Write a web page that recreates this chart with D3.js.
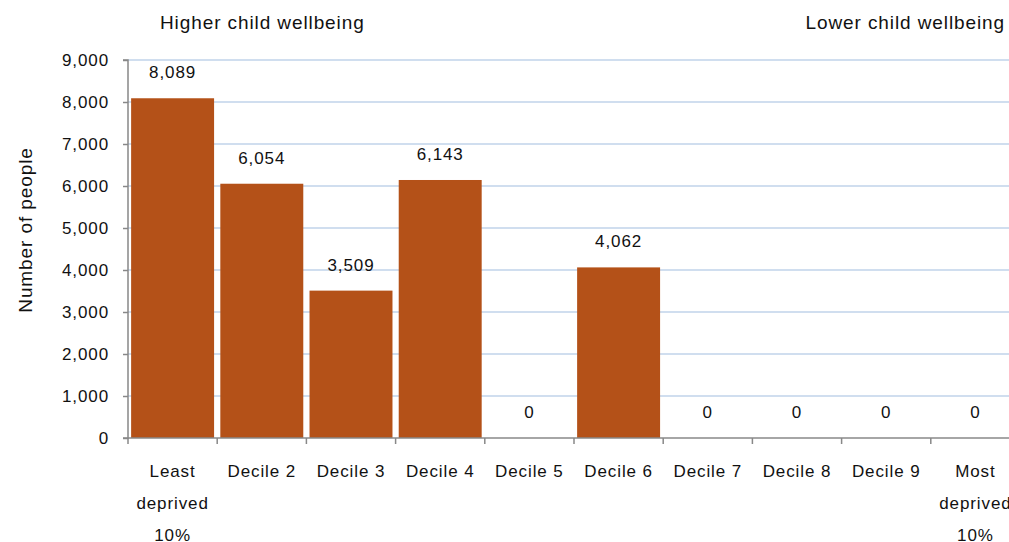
<!DOCTYPE html>
<html><head><meta charset="utf-8">
<script src="https://cdn.jsdelivr.net/npm/d3@7"></script>
<style>body{margin:0;background:#fff;} text{font-family:"Liberation Sans",Arial,sans-serif;}</style>
</head><body>
<svg id="c" width="1009" height="542"></svg>
<script>
const categories = [["Least","deprived","10%"],["Decile 2"],["Decile 3"],["Decile 4"],["Decile 5"],["Decile 6"],["Decile 7"],["Decile 8"],["Decile 9"],["Most","deprived","10%"]];
const values = [8089, 6054, 3509, 6143, 0, 4062, 0, 0, 0, 0];
const yTicks = [0,1000,2000,3000,4000,5000,6000,7000,8000,9000];
const yTitle = "Number of people";
const leftNote = "Higher child wellbeing";
const rightNote = "Lower child wellbeing";

const svg = d3.select("#c");
const x0 = 128, x1 = 1020, yTop = 60, yBot = 438;
const x = d3.scaleBand().domain(d3.range(values.length)).range([x0, x1]).paddingInner(0.07).paddingOuter(0.035);
const xt = d3.scaleBand().domain(d3.range(values.length)).range([x0, x1]);
const y = d3.scaleLinear().domain([0, 9000]).range([yBot, yTop]);
const fmt = d3.format(",");
const LS = "0.9px";

// gridlines
svg.append("g").selectAll("line").data(yTicks.filter(d=>d>0)).join("line")
  .attr("x1", x0).attr("x2", 1009).attr("y1", d=>y(d)).attr("y2", d=>y(d))
  .attr("stroke", "#c0d3ea").attr("stroke-width", 1.3);

// bars
svg.append("g").selectAll("rect").data(values).join("rect")
  .attr("x", (d,i)=>x(i)).attr("width", x.bandwidth())
  .attr("y", d=>y(d)).attr("height", d=>yBot - y(d))
  .attr("fill", "#b45118");

// data labels
svg.append("g").selectAll("text").data(values).join("text")
  .attr("x", (d,i)=>xt(i)+xt.bandwidth()/2).attr("y", d=>y(d)-20)
  .attr("text-anchor","middle").attr("font-size", 17).attr("letter-spacing", LS).attr("fill","#111")
  .text(d=>fmt(d));

// y axis
const yAxis = d3.axisLeft(y).tickValues(yTicks).tickFormat(fmt).tickSize(5).tickPadding(14);
const gy = svg.append("g").attr("transform", `translate(${x0},0)`).call(yAxis);
gy.select(".domain").attr("stroke","#888").attr("stroke-width",1.5).attr("d", `M-5,${yTop}H0V${yBot}H-5`);
gy.selectAll(".tick line").attr("stroke","#888").attr("stroke-width",1.5);
gy.selectAll(".tick text").attr("font-size",17).attr("letter-spacing", LS).attr("fill","#111").attr("font-family","Liberation Sans, Arial, sans-serif");

// x axis
const xAxis = d3.axisBottom(xt).tickValues([]).tickSizeOuter(0);
const gx = svg.append("g").attr("transform", `translate(0,${yBot})`).call(xAxis);
gx.select(".domain").attr("stroke","#888").attr("stroke-width",1.5).attr("d", `M${x0},0H1009`);
gx.selectAll("line.tk").data(d3.range(values.length+1)).join("line").attr("class","tk")
  .attr("x1", i=>x0 + i*xt.step()).attr("x2", i=>x0 + i*xt.step())
  .attr("y1",0).attr("y2",6).attr("stroke","#888").attr("stroke-width",1.5);

// category labels
const cl = svg.append("g").selectAll("text").data(categories).join("text")
  .attr("x", (d,i)=>xt(i)+xt.bandwidth()/2).attr("y", 477)
  .attr("text-anchor","middle").attr("font-size",17).attr("letter-spacing", LS).attr("fill","#111");
cl.selectAll("tspan").data(d=>d).join("tspan")
  .attr("x", function(){ return d3.select(this.parentNode).attr("x"); })
  .attr("dy", (d,i)=> i===0 ? 0 : 32).text(d=>d);

// y title
svg.append("text").attr("transform","translate(32,230) rotate(-90)")
  .attr("text-anchor","middle").attr("font-size",19).attr("letter-spacing", LS).attr("fill","#111").text(yTitle);

// notes
svg.append("text").attr("x",160).attr("y",29).attr("font-size",19).attr("letter-spacing", LS).attr("fill","#111").text(leftNote);
svg.append("text").attr("x",1005).attr("y",29).attr("text-anchor","end").attr("font-size",19).attr("letter-spacing", LS).attr("fill","#111").text(rightNote);
</script>
</body></html>
